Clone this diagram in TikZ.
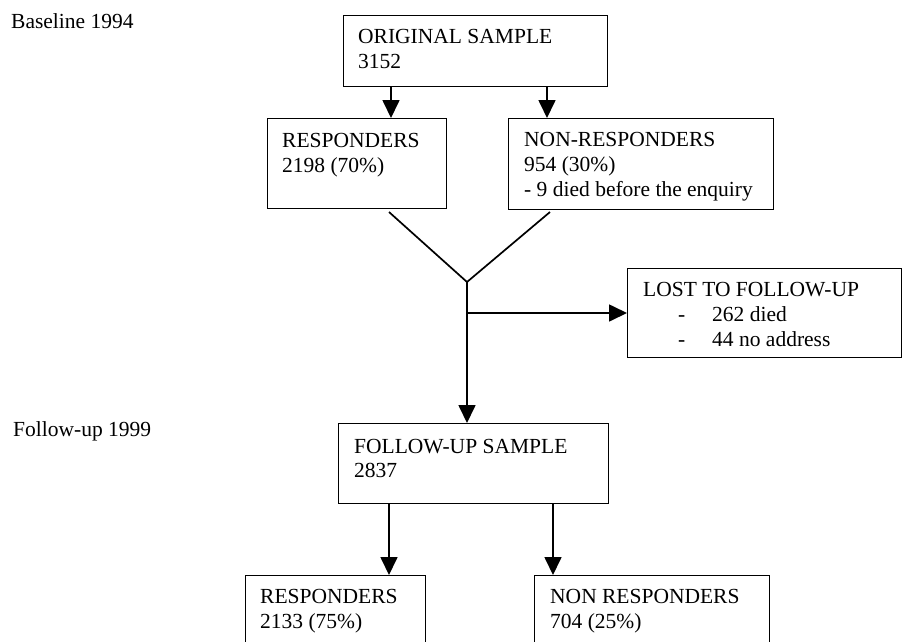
\documentclass[tikz,border=0pt]{standalone}
\usepackage{fontspec}
\setmainfont{Liberation Serif}
\usetikzlibrary{arrows.meta}
\begin{document}
\begin{tikzpicture}[x=1pt,y=-1pt,
  box/.style={draw, line width=1.1pt, rectangle, inner sep=0pt, anchor=north west},
  txt/.style={anchor=base west, inner sep=0pt, font=\fontsize{21.5}{25}\selectfont},
  conn/.style={line width=1.7pt},
  arr/.style={line width=1.7pt, -{Triangle[width=17pt,length=18pt]}}]
\useasboundingbox (0,0) rectangle (903,641);
\clip (0,0) rectangle (903,641);
\fill[white] (0,0) rectangle (903,641);

% side labels
\node[txt] (lab1) at (11,28) {Baseline 1994};
\node[txt] (lab2) at (13,436) {Follow-up 1999};

% boxes
\node[box, minimum width=264pt, minimum height=71pt] (orig) at (343,15) {};
\node[txt] (origA) at (358,43) {ORIGINAL SAMPLE};
\node[txt] (origB) at (358,68) {3152};

\node[box, minimum width=179pt, minimum height=90pt] (resp) at (267,118) {};
\node[txt] (respA) at (282,147) {RESPONDERS};
\node[txt] (respB) at (282,172) {2198 (70\%)};

\node[box, minimum width=265pt, minimum height=91pt] (nonr) at (508,118) {};
\node[txt] (nonrA) at (524,146) {NON-RESPONDERS};
\node[txt] (nonrB) at (524,171) {954 (30\%)};
\node[txt] (nonrC) at (524,196) {- 9 died before the enquiry};

\node[box, minimum width=274pt, minimum height=89pt] (lost) at (627,268) {};
\node[txt] (lostA) at (643,296) {LOST TO FOLLOW-UP};
\node[txt] (lostB) at (678,321) {-};
\node[txt] (lostC) at (712,321) {262 died};
\node[txt] (lostD) at (678,346) {-};
\node[txt] (lostE) at (712,346) {44 no address};

\node[box, minimum width=270pt, minimum height=80pt] (fu) at (338,423) {};
\node[txt] (fuA) at (354,453) {FOLLOW-UP SAMPLE};
\node[txt] (fuB) at (354,477) {2837};

\node[box, minimum width=180pt, minimum height=90pt] (resp2) at (245,575) {};
\node[txt] (resp2A) at (260,603) {RESPONDERS};
\node[txt] (resp2B) at (260,628) {2133 (75\%)};

\node[box, minimum width=235pt, minimum height=90pt] (nonr2) at (534,575) {};
\node[txt] (nonr2A) at (550,603) {NON RESPONDERS};
\node[txt] (nonr2B) at (550,628) {704 (25\%)};

% helper coordinates
\coordinate (xa) at (391,0);
\coordinate (xb) at (547,0);
\coordinate (va) at (389,212);
\coordinate (vb) at (550,212);
\coordinate (j) at (467,282);
\coordinate (h) at (467,313);
\coordinate (xc) at (389,0);
\coordinate (xd) at (553,0);

% connectors
\draw[arr] (xa |- orig.south) -- (xa |- resp.north);
\draw[arr] (xb |- orig.south) -- (xb |- nonr.north);
\draw[conn] (va) -- (j) -- (vb);
\draw[arr] (j) -- (j |- fu.north);
\draw[arr] (h) -- (h -| lost.west);
\draw[arr] (xc |- fu.south) -- (xc |- resp2.north);
\draw[arr] (xd |- fu.south) -- (xd |- nonr2.north);
\end{tikzpicture}
\end{document}
